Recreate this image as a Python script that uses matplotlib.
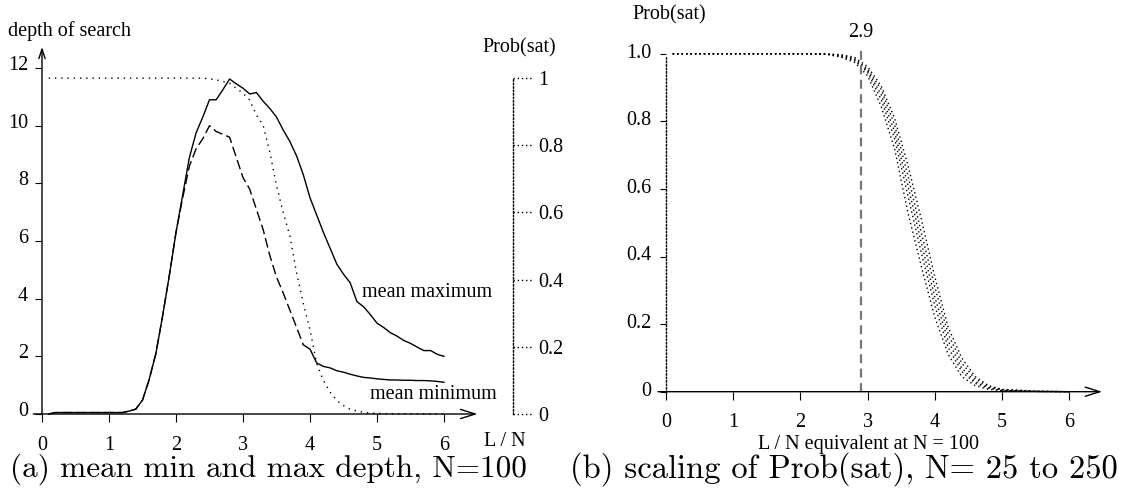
import numpy as np
import matplotlib
matplotlib.use('Agg')
from matplotlib import pyplot as plt
from matplotlib import transforms

# ---- data ----

# (a) depth of search vs L/N, N=100
ratio = [0.1, 0.2, 0.4, 0.6, 0.8, 1.0, 1.2, 1.3, 1.4, 1.5, 1.6, 1.7, 1.8, 1.9, 2.0,
         2.1, 2.2, 2.3, 2.4, 2.5, 2.6, 2.7, 2.8, 2.9, 3.0, 3.1, 3.2, 3.3, 3.4, 3.5,
         3.6, 3.7, 3.8, 3.9, 4.0, 4.1, 4.2, 4.3, 4.4, 4.5, 4.6, 4.7, 4.8, 4.9, 5.0,
         5.1, 5.2, 5.3, 5.4, 5.5, 5.6, 5.7, 5.8, 5.9, 6.0]

mean_max = [0.0, 0.05, 0.05, 0.05, 0.05, 0.05, 0.05, 0.1, 0.17, 0.48, 1.2, 2.1, 3.4, 4.8, 6.3,
            7.6, 8.9, 9.75, 10.3, 10.9, 10.9, 11.25, 11.62, 11.45, 11.3, 11.1, 11.15, 10.85, 10.6, 10.3,
            9.85, 9.45, 8.95, 8.3, 7.5, 6.9, 6.3, 5.75, 5.2, 4.85, 4.55, 3.9, 3.72, 3.45, 3.15,
            3.0, 2.82, 2.7, 2.55, 2.45, 2.32, 2.2, 2.2, 2.07, 2.0]

mean_min = [0.0, 0.05, 0.05, 0.05, 0.05, 0.05, 0.05, 0.1, 0.17, 0.48, 1.2, 2.1, 3.4, 4.8, 6.3,
            7.5, 8.6, 9.2, 9.55, 10.0, 9.8, 9.7, 9.6, 8.9, 8.2, 7.8, 7.1, 6.4, 5.5, 4.75,
            4.2, 3.6, 3.0, 2.4, 2.25, 1.77, 1.65, 1.6, 1.5, 1.45, 1.38, 1.32, 1.27, 1.25, 1.22,
            1.2, 1.18, 1.18, 1.17, 1.17, 1.16, 1.16, 1.15, 1.13, 1.1]

prob_sat_100 = [1.0, 1.0, 1.0, 1.0, 1.0, 1.0, 1.0, 1.0, 1.0, 1.0, 1.0, 1.0, 1.0, 1.0, 1.0,
                1.0, 1.0, 1.0, 1.0, 0.998, 0.995, 0.99, 0.985, 0.97, 0.955, 0.935, 0.89, 0.86, 0.78, 0.68,
                0.60, 0.53, 0.42, 0.33, 0.25, 0.15, 0.10, 0.065, 0.04, 0.025, 0.014, 0.009, 0.005, 0.003, 0.002,
                0.001, 0.001, 0.0005, 0.0, 0.0, 0.0, 0.0, 0.0, 0.0, 0.0]

depth_ticks = [0, 2, 4, 6, 8, 10, 12]
prob_ticks = [0, 0.2, 0.4, 0.6, 0.8, 1]
prob_tick_labels = ['0', '0.2', '0.4', '0.6', '0.8', '1']

# (b) Prob(sat) for N = 25 .. 250, rescaled to N = 100
scaled_ratio = [0.1, 0.5, 1.0, 1.5, 2.0, 2.4, 2.6, 2.8, 3.0, 3.2, 3.4, 3.6, 3.8, 4.0,
                4.2, 4.4, 4.6, 4.8, 5.0, 5.5, 6.0]
prob_n25 = [1, 1, 1, 1, 1, 0.998, 0.99, 0.975, 0.935, 0.845, 0.72, 0.53, 0.37, 0.22,
            0.11, 0.045, 0.018, 0.007, 0.003, 0.001, 0]
prob_n50 = [1, 1, 1, 1, 1, 0.998, 0.992, 0.98, 0.945, 0.865, 0.75, 0.58, 0.41, 0.255,
            0.13, 0.06, 0.025, 0.01, 0.004, 0.001, 0]
prob_n100 = [1, 1, 1, 1, 1, 0.999, 0.994, 0.983, 0.95, 0.88, 0.77, 0.61, 0.44, 0.28,
             0.15, 0.07, 0.03, 0.012, 0.005, 0.001, 0]
prob_n150 = [1, 1, 1, 1, 1, 0.999, 0.996, 0.986, 0.955, 0.895, 0.79, 0.64, 0.47, 0.31,
             0.17, 0.085, 0.038, 0.015, 0.006, 0.001, 0]
prob_n250 = [1, 1, 1, 1, 1, 0.999, 0.997, 0.99, 0.962, 0.905, 0.81, 0.67, 0.51, 0.34,
             0.19, 0.10, 0.045, 0.018, 0.007, 0.002, 0]

scaled_ticks = [0, 0.2, 0.4, 0.6, 0.8, 1.0]
scaled_tick_labels = ['0', '0.2', '0.4', '0.6', '0.8', '1.0']
threshold = 2.9

W, H = 1130, 496
FS = 14.5


def place(fig, x0, y0, sx, sy, xlim, ylim):
    # axes placed so that data (0,0) lands on pixel (x0, y0)
    left = x0 + xlim[0] * sx
    right = x0 + xlim[1] * sx
    top = y0 - ylim[1] * sy
    bottom = y0 - ylim[0] * sy
    ax = fig.add_axes([left / W, 1 - bottom / H, (right - left) / W, (bottom - top) / H])
    ax.set_xlim(xlim)
    ax.set_ylim(ylim)
    ax.patch.set_visible(False)
    return ax


def arrow(ax, start, end, hl, hw, ms):
    ax.annotate('', xy=end, xytext=start,
                arrowprops=dict(arrowstyle='->,head_length=%g,head_width=%g' % (hl, hw),
                                lw=1.0, color='black', shrinkA=0, shrinkB=0,
                                mutation_scale=ms))


def shift_labels(labels, fig, dy):
    for lab in labels:
        lab.set_transform(lab.get_transform() +
                          transforms.ScaledTranslation(0, dy / 100, fig.dpi_scale_trans))


def panel_a(fig):
    ax = place(fig, 42, 414, 67, 28.83, (-0.3, 7.7), (-0.5, 13.0))
    for s in ['top', 'right']:
        ax.spines[s].set_visible(False)
    ax.spines['left'].set_position(('data', 0))
    ax.spines['bottom'].set_position(('data', 0))
    ax.spines['left'].set_visible(False)
    ax.spines['bottom'].set_visible(False)

    x = np.array(ratio)
    mn = np.array(mean_min)
    ax.plot(x, mean_max, color='black', lw=1.0)
    dashed = x <= 3.9
    ax.plot(x[dashed], mn[dashed], color='black', lw=1.0, dashes=(7, 3))
    ax.plot(x[x >= 3.9], mn[x >= 3.9], color='black', lw=1.0)

    ax.set_xticks(range(7))
    ax.set_yticks(depth_ticks)
    ax.tick_params(axis='x', direction='out', length=6, width=0.8, pad=9.5, labelsize=FS)
    ax.tick_params(axis='y', direction='out', length=5, width=0.8, pad=5, labelsize=FS)
    shift_labels(ax.get_yticklabels(), fig, 5)

    arrow(ax, (-0.13, 0), (6.5, 0), 0.7, 0.22, 15)
    arrow(ax, (0, 0), (0, 12.73), 0.45, 0.15, 15)

    ax.text(0.41, 13.28, 'depth of search', ha='center', va='center', fontsize=FS)
    ax.text(6.91, -0.97, 'L / N', ha='center', va='center', fontsize=FS)
    ax.text(4.78, 4.23, 'mean maximum', ha='left', va='center', fontsize=FS)
    ax.text(4.9, 0.68, 'mean minimum', ha='left', va='center', fontsize=FS)

    # Prob(sat) on its own scale, 1 sits at depth 11.65
    top_depth = 11.65
    ax2 = ax.twinx()
    ax2.set_ylim(-0.5 / top_depth, 13.0 / top_depth)
    ax2.plot(ratio, prob_sat_100, color='black', lw=1.0, dashes=(1, 3.5))
    for s in ['top', 'left', 'bottom']:
        ax2.spines[s].set_visible(False)
    ax2.spines['right'].set_position(('data', 7.03))
    ax2.spines['right'].set_bounds(0, 1)
    ax2.spines['right'].set_linestyle((0, (1, 1.5)))
    ax2.spines['right'].set_linewidth(1.0)
    ax2.set_yticks(prob_ticks)
    ax2.set_yticklabels(prob_tick_labels)
    ax2.tick_params(axis='y', length=0, pad=18, labelsize=FS)
    ax2.hlines(prob_ticks, 7.03, 7.31, color='black', lw=1.0, linestyles=(0, (1, 2)))
    ax2.text(7.12, 12.69 / top_depth, 'Prob(sat)', ha='center', va='center', fontsize=FS)


def panel_b(fig):
    ax = place(fig, 666, 391.7, 67.2, 338, (-0.5, 6.8), (-0.06, 1.05))
    for s in ['top', 'right', 'bottom']:
        ax.spines[s].set_visible(False)
    ax.spines['left'].set_position(('data', 0))
    ax.spines['bottom'].set_position(('data', 0))
    ax.spines['left'].set_bounds(0, 0.99)
    ax.spines['left'].set_linestyle((0, (1, 1.5)))
    ax.spines['left'].set_linewidth(1.0)

    for series in [prob_n25, prob_n50, prob_n100, prob_n150, prob_n250]:
        ax.plot(scaled_ratio, series, color='black', lw=1.0, dashes=(1, 2.2))

    ax.vlines(threshold, 0, 1.017, color='#777777', lw=1.6, linestyles=(0, (4, 2.5)))
    ax.text(threshold, 1.064, '2.9', ha='center', va='center', fontsize=FS)

    ax.set_xticks(range(7))
    ax.set_yticks(scaled_ticks)
    ax.set_yticklabels(scaled_tick_labels)
    ax.tick_params(axis='x', direction='out', length=5.5, width=0.8, pad=9.5, labelsize=FS)
    ax.tick_params(axis='y', direction='out', length=4.5, width=0.8, pad=6, labelsize=FS)
    shift_labels(ax.get_yticklabels(), fig, 3)

    arrow(ax, (-0.12, 0), (6.49, 0), 0.7, 0.22, 15)

    ax.text(0.045, 1.114, 'Prob(sat)', ha='center', va='center', fontsize=FS)
    ax.text(3.02, -0.155, 'L / N equivalent at N = 100', ha='center', va='center', fontsize=FS)


def main():
    plt.rcParams['font.family'] = ['Liberation Serif', 'DejaVu Serif']
    fig = plt.figure(figsize=(W / 100, H / 100), dpi=100)
    panel_a(fig)
    panel_b(fig)
    fig.text(268 / W, 1 - 469 / H, '(a) mean min and max depth, N=100',
             ha='center', va='center', family='cmr10', fontsize=22.5)
    fig.text(844 / W, 1 - 469 / H, '(b) scaling of Prob(sat), N= 25 to 250',
             ha='center', va='center', family='cmr10', fontsize=23.5)
    fig.savefig('out.png', dpi=100)


if __name__ == '__main__':
    main()
